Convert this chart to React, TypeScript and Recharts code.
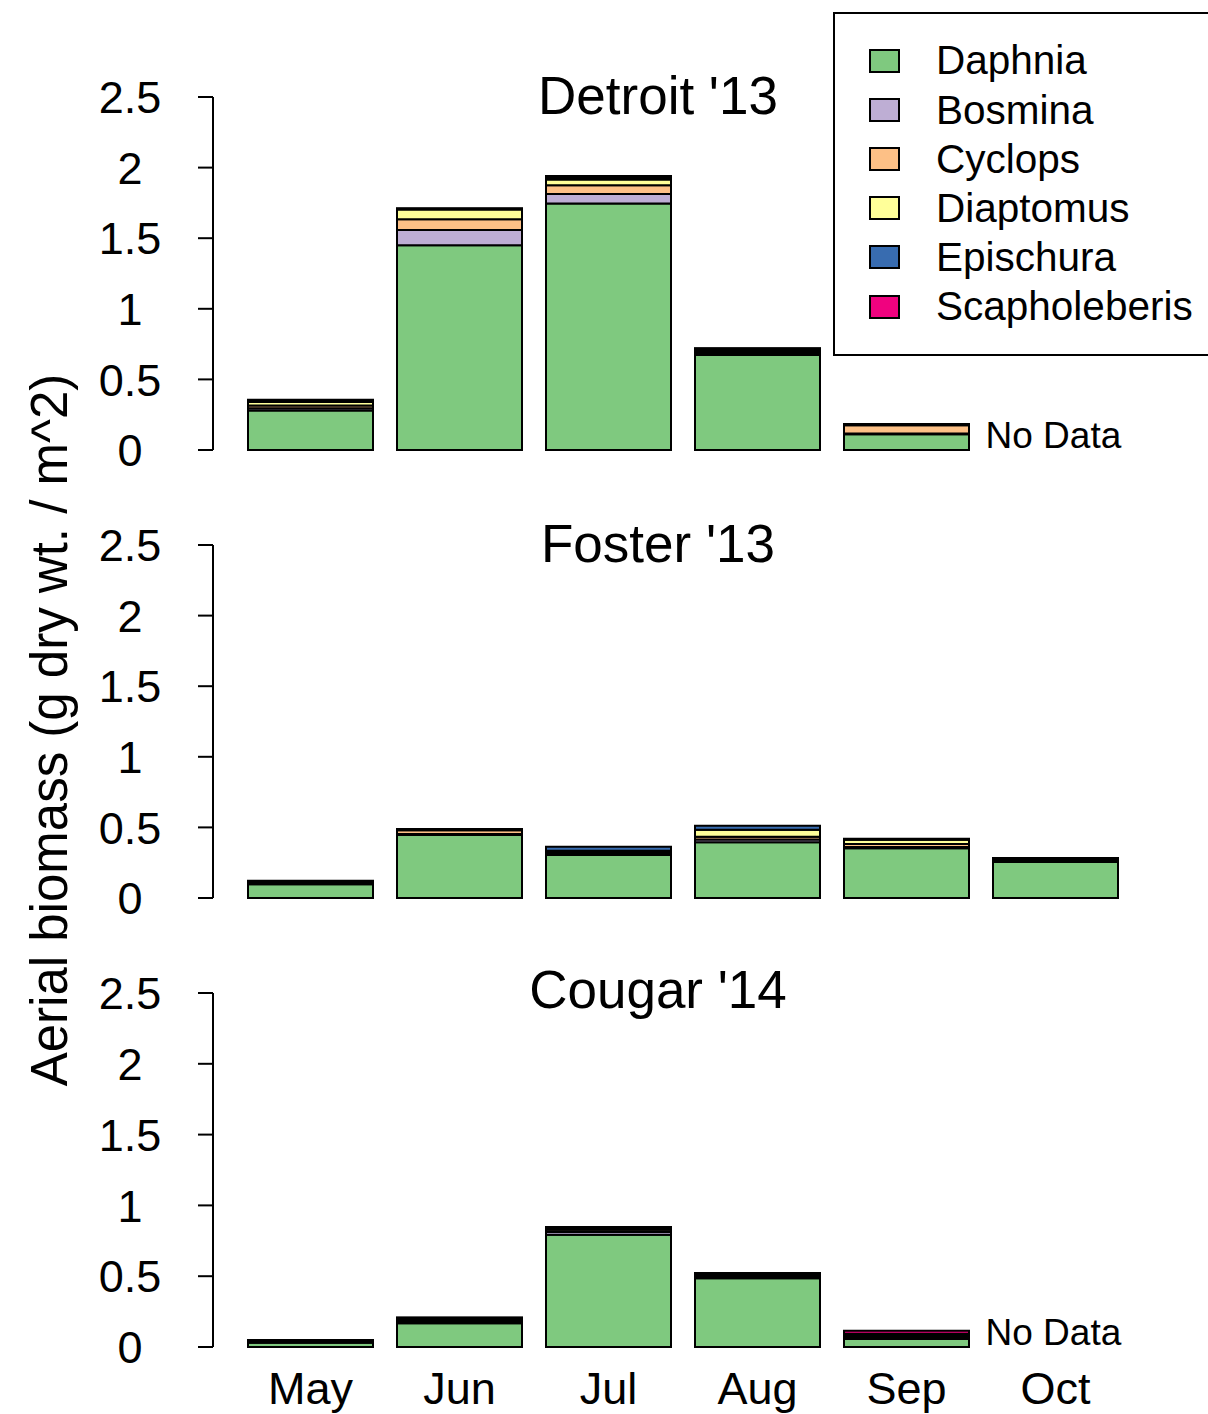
import React from "react";
import {
  Bar,
  BarChart,
  Customized,
  Legend,
  ReferenceDot,
  XAxis,
  YAxis,
} from "recharts";

const months = ["May", "Jun", "Jul", "Aug", "Sep", "Oct"];
const yTicks = [0, 0.5, 1, 1.5, 2, 2.5];

const taxa = ["Daphnia", "Bosmina", "Cyclops", "Diaptomus", "Epischura", "Scapholeberis"];
const taxaColors = ["#7FC97F", "#BEAED4", "#FDC086", "#FFFF99", "#386CB0", "#F0027F"];

// Detroit '13 (Oct: no data)
const detroitDaphnia = [0.28, 1.45, 1.745, 0.673, 0.111, null];
const detroitBosmina = [0.015, 0.108, 0.068, 0.01, 0.005, null];
const detroitCyclops = [0.02, 0.076, 0.062, 0.015, 0.06, null];
const detroitDiaptomus = [0.025, 0.07, 0.04, 0.01, 0.005, null];
const detroitEpischura = [0.01, 0.005, 0.015, 0.01, 0.003, null];
const detroitScapholeberis = [0.005, 0.003, 0.01, 0.002, 0, null];

// Foster '13
const fosterDaphnia = [0.097, 0.446, 0.305, 0.394, 0.352, 0.255];
const fosterBosmina = [0.008, 0.008, 0.01, 0.02, 0.01, 0.008];
const fosterCyclops = [0.008, 0.025, 0.01, 0.02, 0.02, 0.008];
const fosterDiaptomus = [0.005, 0.006, 0.01, 0.05, 0.03, 0.007];
const fosterEpischura = [0.003, 0.002, 0.028, 0.028, 0.005, 0.003];
const fosterScapholeberis = [0.002, 0.002, 0, 0, 0.003, 0.002];

// Cougar '14 (Oct: no data)
const cougarDaphnia = [0.03, 0.168, 0.793, 0.486, 0.057, null];
const cougarBosmina = [0.008, 0.01, 0.02, 0.01, 0.01, null];
const cougarCyclops = [0.007, 0.015, 0.015, 0.01, 0.01, null];
const cougarDiaptomus = [0.003, 0.008, 0.01, 0.008, 0.008, null];
const cougarEpischura = [0.002, 0.005, 0.008, 0.005, 0.008, null];
const cougarScapholeberis = [0, 0.002, 0.002, 0.003, 0.022, null];

type Row = { month: string; [k: string]: string | number | null };

function buildRows(series: (number | null)[][]): Row[] {
  return months.map((m, i) => {
    const row: Row = { month: m };
    taxa.forEach((t, j) => (row[t] = series[j][i]));
    return row;
  });
}

const detroitData = buildRows([
  detroitDaphnia, detroitBosmina, detroitCyclops,
  detroitDiaptomus, detroitEpischura, detroitScapholeberis,
]);
const fosterData = buildRows([
  fosterDaphnia, fosterBosmina, fosterCyclops,
  fosterDiaptomus, fosterEpischura, fosterScapholeberis,
]);
const cougarData = buildRows([
  cougarDaphnia, cougarBosmina, cougarCyclops,
  cougarDiaptomus, cougarEpischura, cougarScapholeberis,
]);

const FONT = "'Liberation Sans', Arial, sans-serif";

function YTick(p: any) {
  return (
    <text x={p.x - 66} y={p.y} dy="0.36em" textAnchor="middle" fontSize={45} fontFamily={FONT} fill="#000">
      {p.payload.value}
    </text>
  );
}

function XTick(p: any) {
  return (
    <text x={p.x} y={p.y} dy={57} textAnchor="middle" fontSize={45} fontFamily={FONT} fill="#000">
      {p.payload.value}
    </text>
  );
}

function LegendBox() {
  return (
    <div
      style={{
        width: 400,
        height: 344,
        border: "2px solid #000",
        boxSizing: "border-box",
        paddingTop: 22,
        background: "#fff",
        fontFamily: FONT,
        fontSize: 40.5,
      }}
    >
      {taxa.map((t, i) => (
        <div key={t} style={{ display: "flex", alignItems: "center", height: 49.2 }}>
          <div
            style={{
              width: 31,
              height: 24,
              marginLeft: 34,
              border: "2px solid #000",
              boxSizing: "border-box",
              background: taxaColors[i],
            }}
          />
          <span style={{ marginLeft: 36, lineHeight: 1 }}>{t}</span>
        </div>
      ))}
    </div>
  );
}

function Panel({
  title,
  data,
  noData,
  showX,
  legend,
  top,
}: {
  title: string;
  data: Row[];
  noData?: boolean;
  showX?: boolean;
  legend?: boolean;
  top: number;
}) {
  const height = showX ? 517 : 490;
  const margin = showX
    ? { top: 96, right: 78, bottom: 7, left: 0 }
    : { top: 97, right: 78, bottom: 40, left: 0 };
  return (
    <div style={{ position: "absolute", left: 0, top }}>
      <BarChart width={1208} height={height} data={data} margin={margin}>
        <XAxis
          dataKey="month"
          hide={!showX}
          height={60}
          padding={{ left: 23, right: 0 }}
          axisLine={false}
          tickLine={false}
          tickSize={0}
          tickMargin={0}
          tick={<XTick />}
          interval={0}
        />
        <YAxis
          domain={[0, 2.5]}
          ticks={yTicks}
          width={213}
          tickSize={15}
          tickMargin={2}
          axisLine={{ stroke: "#000", strokeWidth: 2 }}
          tickLine={{ stroke: "#000", strokeWidth: 2 }}
          tick={<YTick />}
          interval={0}
        />
        {taxa.map((t, i) => (
          <Bar
            key={t}
            dataKey={t}
            stackId="a"
            fill={taxaColors[i]}
            stroke="#000"
            strokeWidth={2}
            barSize={125}
            isAnimationActive={false}
          />
        ))}
        {noData && (
          <ReferenceDot
            x="Oct"
            y={0}
            r={0}
            fill="none"
            stroke="none"
            label={{
              content: (p: any) => (
                <text
                  x={p.viewBox.x - 70}
                  y={p.viewBox.y - 2}
                  fontSize={37}
                  fontFamily={FONT}
                  fill="#000"
                >
                  No Data
                </text>
              ),
            }}
          />
        )}
        <Customized
          component={
            <text x={658} y={showX ? 111 : 114} textAnchor="middle" fontSize={53} fontFamily={FONT} fill="#000">
              {title}
            </text>
          }
        />
        {legend && (
          <Legend
            layout="vertical"
            align="center"
            verticalAlign="middle"
            content={<LegendBox />}
            wrapperStyle={{ position: "absolute", left: 833, top: 12, width: 400, height: 344 }}
          />
        )}
      </BarChart>
    </div>
  );
}

export default function App() {
  return (
    <div
      style={{
        position: "relative",
        width: 1208,
        height: 1414,
        overflow: "hidden",
        background: "#fff",
        fontFamily: FONT,
      }}
    >
      <style>{"body{margin:0}"}</style>
      <Panel title="Detroit '13" data={detroitData} noData legend top={0} />
      <Panel title="Foster '13" data={fosterData} top={448} />
      <Panel title="Cougar '14" data={cougarData} noData showX top={897} />
      <svg
        width={120}
        height={1414}
        style={{ position: "absolute", left: 0, top: 0, pointerEvents: "none" }}
      >
        <text
          x={67}
          y={730}
          textAnchor="middle"
          fontSize={51}
          fontFamily={FONT}
          fill="#000"
          transform="rotate(-90, 67, 730)"
        >
          Aerial biomass (g dry wt. / m^2)
        </text>
      </svg>
    </div>
  );
}
